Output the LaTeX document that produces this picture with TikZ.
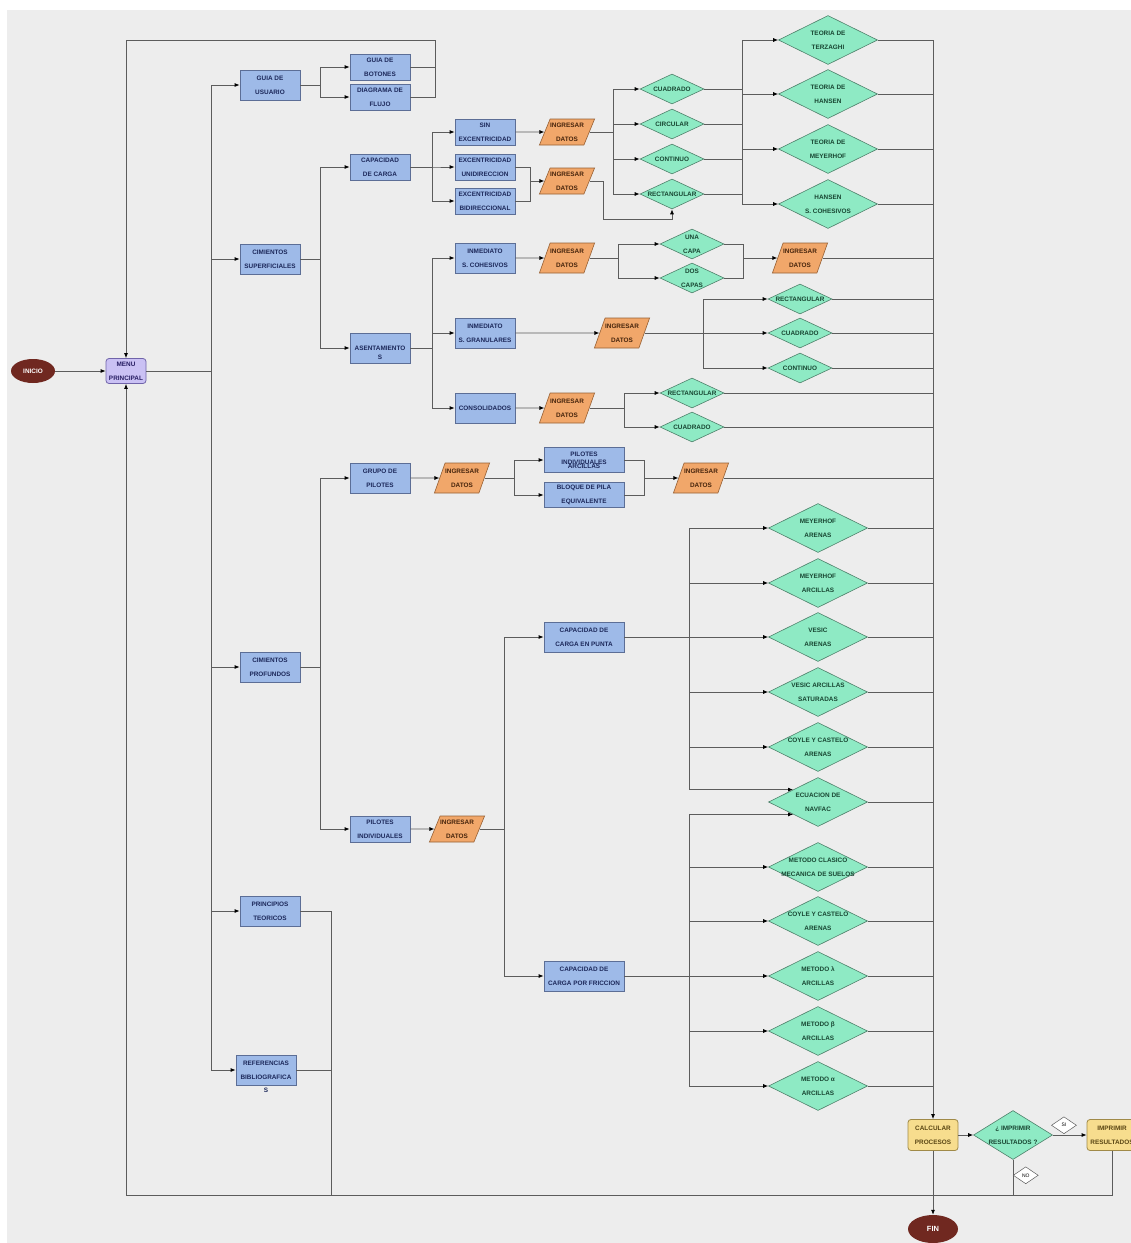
\documentclass[tikz,border=0pt]{standalone}
\usepackage{fontspec}
\setmainfont{Liberation Sans}
\usetikzlibrary{arrows.meta,shapes.geometric,positioning}

\definecolor{fondo}{RGB}{237,237,237}
\definecolor{azul}{RGB}{158,186,232}
\definecolor{azulb}{RGB}{92,110,150}
\definecolor{azult}{RGB}{28,40,90}
\definecolor{naranja}{RGB}{241,167,106}
\definecolor{naranjab}{RGB}{150,96,52}
\definecolor{naranjat}{RGB}{70,36,12}
\definecolor{verde}{RGB}{142,234,196}
\definecolor{verdeb}{RGB}{78,128,106}
\definecolor{verdet}{RGB}{24,70,50}
\definecolor{lila}{RGB}{202,193,244}
\definecolor{lilab}{RGB}{112,100,170}
\definecolor{lilat}{RGB}{40,30,100}
\definecolor{amarillo}{RGB}{247,221,142}
\definecolor{amarillob}{RGB}{160,138,72}
\definecolor{amarillot}{RGB}{90,70,20}
\definecolor{vino}{RGB}{112,40,32}
\definecolor{linea}{RGB}{92,92,92}

\begin{document}
\begin{tikzpicture}[x=1pt,y=-1pt,
    every node/.style={font=\fontsize{6.4}{14}\selectfont\bfseries,align=center,inner sep=0pt},
    caja/.style={rectangle,draw=azulb,fill=azul,text=azult,line width=0.8pt,minimum width=60pt,minimum height=30pt},
    cajab/.style={caja,minimum height=26pt},
    cajaw/.style={caja,minimum width=80pt},
    datos/.style={trapezium,trapezium left angle=60,trapezium right angle=120,trapezium stretches=true,
        draw=naranjab,fill=naranja,text=naranjat,line width=0.6pt,minimum width=54pt,minimum height=26pt},
    rombo/.style={diamond,aspect=2,inner xsep=-20pt,draw=verdeb,fill=verde,text=verdet,line width=0.6pt,
        minimum width=64pt,minimum height=30pt},
    rombog/.style={rombo,minimum width=99pt,minimum height=49pt},
    menu/.style={rectangle,rounded corners=3pt,draw=lilab,fill=lila,text=lilat,line width=0.8pt,minimum width=40pt,minimum height=25pt},
    proc/.style={rectangle,rounded corners=3pt,draw=amarillob,fill=amarillo,text=amarillot,line width=0.8pt,minimum width=50pt,minimum height=31pt},
    term/.style={ellipse,fill=vino,text=white,minimum width=44pt,minimum height=24pt},
    etq/.style={diamond,aspect=1.5,draw=linea,fill=white,text=black,line width=0.5pt,minimum width=25pt,minimum height=17pt,
        font=\fontsize{5}{6}\selectfont},
    lin/.style={draw=linea,line width=0.8pt},
    arr/.style={lin,-{Latex[length=5pt,width=4pt,color=black]}}]
        \useasboundingbox (0,0) rectangle (1131,1243);
        \fill[fondo] (7,10) rectangle (1131,1243);

        \node[term] (inicio) at (33,371) {INICIO};
        \node[menu] (menu) at (126,371) {MENU\\PRINCIPAL};

        \node[caja] (guia) at (270,85) {GUIA DE\\USUARIO};
        \node[caja] (supf) at (270,259) {CIMIENTOS\\SUPERFICIALES};
        \node[caja] (prof) at (270,667) {CIMIENTOS\\PROFUNDOS};
        \node[caja] (princ) at (270,911) {PRINCIPIOS\\TEORICOS};
        \node[caja] (refs) at (266,1070) {REFERENCIAS\\BIBLIOGRAFICA\\[-14pt]\raisebox{-13pt}[0pt][0pt]{S}};

        \node[cajab] (botones) at (380,67) {GUIA DE\\BOTONES};
        \node[cajab] (diagrama) at (380,97) {DIAGRAMA DE\\FLUJO};
        \node[cajab] (capcarga) at (380,167) {CAPACIDAD\\DE CARGA};
        \node[caja] (asent) at (380,348) {ASENTAMIENTO\\[-14pt]\raisebox{-9pt}[0pt][0pt]{S}};
        \node[caja] (grupo) at (380,478) {GRUPO DE\\PILOTES};
        \node[cajab] (pilind) at (380,829) {PILOTES\\INDIVIDUALES};

        \node[cajab] (sinexc) at (485,132) {SIN\\EXCENTRICIDAD};
        \node[cajab] (uniexc) at (485,167) {EXCENTRICIDAD\\UNIDIRECCION};
        \node[cajab] (biexc) at (485,201) {EXCENTRICIDAD\\BIDIRECCIONAL};
        \node[caja] (inmcoh) at (485,258) {INMEDIATO\\S. COHESIVOS};
        \node[caja] (inmgran) at (485,333) {INMEDIATO\\S. GRANULARES};
        \node[caja] (consol) at (485,408) {CONSOLIDADOS};

        \node[datos] (dat1) at (567,132) {INGRESAR\\DATOS};
        \node[datos] (dat2) at (567,181) {INGRESAR\\DATOS};
        \node[datos,minimum height=30pt] (dat3) at (567,258) {INGRESAR\\DATOS};
        \node[datos,minimum height=30pt] (dat4) at (800,258) {INGRESAR\\DATOS};
        \node[datos,minimum height=30pt] (dat5) at (622,333) {INGRESAR\\DATOS};
        \node[datos,minimum height=30pt] (dat6) at (567,408) {INGRESAR\\DATOS};
        \node[datos,minimum height=30pt] (dat7) at (462,478) {INGRESAR\\DATOS};
        \node[datos,minimum height=30pt] (dat8) at (701,478) {INGRESAR\\DATOS};
        \node[datos] (dat9) at (457,829) {INGRESAR\\DATOS};

        \node[rombo] (cuad1) at (672,89) {CUADRADO};
        \node[rombo] (circ1) at (672,124) {CIRCULAR};
        \node[rombo] (cont1) at (672,159) {CONTINUO};
        \node[rombo] (rect1) at (672,194) {RECTANGULAR};
        \node[rombog] (terz) at (828,40) {TEORIA DE\\TERZAGHI};
        \node[rombog] (hans) at (828,94) {TEORIA DE\\HANSEN};
        \node[rombog] (meyer) at (828,149) {TEORIA DE\\MEYERHOF};
        \node[rombog] (hanscoh) at (828,204) {HANSEN\\S. COHESIVOS};

        \node[rombo] (unacapa) at (692,244) {UNA\\CAPA};
        \node[rombo] (doscapas) at (692,278) {DOS\\CAPAS};
        \node[rombo] (rect2) at (800,299) {RECTANGULAR};
        \node[rombo] (cuad2) at (800,333) {CUADRADO};
        \node[rombo] (cont2) at (800,368) {CONTINUO};
        \node[rombo] (rect3) at (692,393) {RECTANGULAR};
        \node[rombo] (cuad3) at (692,427) {CUADRADO};

        \node[cajaw,minimum height=25pt] (pilarc) at (584,460) {PILOTES\\[-6pt]INDIVIDUALES\\[-10pt]ARCILLAS};
        \node[cajaw,minimum height=25pt] (bloque) at (584,495) {BLOQUE DE PILA\\EQUIVALENTE};
        \node[cajaw] (punta) at (584,637) {CAPACIDAD DE\\CARGA EN PUNTA};
        \node[cajaw] (fricc) at (584,976) {CAPACIDAD DE\\CARGA POR FRICCION};

        \node[rombog] (meyare) at (818,528) {MEYERHOF\\ARENAS};
        \node[rombog] (meyarc) at (818,583) {MEYERHOF\\ARCILLAS};
        \node[rombog] (vesare) at (818,637) {VESIC\\ARENAS};
        \node[rombog] (vesarc) at (818,692) {VESIC ARCILLAS\\SATURADAS};
        \node[rombog] (coyle1) at (818,747) {COYLE Y CASTELO\\ARENAS};
        \node[rombog] (navfac) at (818,802) {ECUACION DE\\NAVFAC};
        \node[rombog] (metcla) at (818,867) {METODO CLASICO\\MECANICA DE SUELOS};
        \node[rombog] (coyle2) at (818,921) {COYLE Y CASTELO\\ARENAS};
        \node[rombog] (metlam) at (818,976) {METODO λ\\ARCILLAS};
        \node[rombog] (metbet) at (818,1031) {METODO β\\ARCILLAS};
        \node[rombog] (metalf) at (818,1086) {METODO α\\ARCILLAS};

        \node[proc] (calc) at (933,1135) {CALCULAR\\PROCESOS};
        \node[rombo,minimum width=79pt,minimum height=49pt] (decide) at (1013,1135) {¿ IMPRIMIR\\RESULTADOS ?};
        \node[proc] (impr) at (1112,1135) {IMPRIMIR\\RESULTADOS};
        \node[term,minimum width=50pt,minimum height=28pt,font=\fontsize{7.5}{9}\selectfont\bfseries] (fin) at (933,1229) {FIN};

        \coordinate (xa) at (211,0);
        \coordinate (xb) at (320,0);
        \coordinate (xc) at (432,0);
        \coordinate (xd) at (530,0);
        \coordinate (xe) at (613,0);
        \coordinate (xf) at (603,219);
        \coordinate (xg) at (742,0);
        \coordinate (xh) at (618,0);
        \coordinate (xi) at (743,0);
        \coordinate (xj) at (703,0);
        \coordinate (xk) at (624,0);
        \coordinate (xl) at (514,0);
        \coordinate (xm) at (644,0);
        \coordinate (xn) at (504,0);
        \coordinate (xo) at (689,0);
        \coordinate (xp) at (331,0);
        \coordinate (xr) at (933,0);
        \coordinate (xt) at (435,40);
        \coordinate (yb) at (0,1195);

        \draw[arr] (inicio.east) -- (menu.west);
        \foreach \n in {guia,supf,prof,princ,refs}
            \draw[arr] (menu.east) -- (menu.east -| xa) |- (\n.west);

        \foreach \n in {botones,diagrama}
            \draw[arr] (guia.east) -- (guia.east -| xb) |- (\n.west);
        \draw[lin] (botones.east) -- (botones.east -| xt);
        \draw[arr] (diagrama.east) -| (xt) -| (menu.north);

        \foreach \n in {capcarga,asent}
            \draw[arr] (supf.east) -- (supf.east -| xb) |- (\n.west);
        \foreach \n in {sinexc,uniexc,biexc}
            \draw[arr] (capcarga.east) -- (capcarga.east -| xc) |- (\n.west);
        \draw[arr] (sinexc.east) -- (dat1.west);
        \draw[lin] (uniexc.east) -- (uniexc.east -| xd) -- (biexc.east -| xd) -- (biexc.east);
        \draw[arr] (dat2.west -| xd) -- (dat2.west);
        \foreach \n in {cuad1,circ1,cont1,rect1}
            \draw[arr] (dat1.east) -- (dat1.east -| xe) |- (\n.west);
        \draw[arr] (dat2.east) -| (xf) -| (rect1.south);
        \foreach \n in {cuad1,circ1,cont1,rect1}
            \draw[lin] (\n.east) -- (\n.east -| xg);
        \foreach \n in {terz,hans,meyer,hanscoh}
            \draw[arr] (terz.west -| xg) |- (\n.west);

        \foreach \n in {inmcoh,inmgran,consol}
            \draw[arr] (asent.east) -- (asent.east -| xc) |- (\n.west);
        \draw[arr] (inmcoh.east) -- (dat3.west);
        \foreach \n in {unacapa,doscapas}
            \draw[arr] (dat3.east) -- (dat3.east -| xh) |- (\n.west);
        \draw[lin] (unacapa.east) -- (unacapa.east -| xi) -- (doscapas.east -| xi) -- (doscapas.east);
        \draw[arr] (dat4.west -| xi) -- (dat4.west);
        \draw[arr] (inmgran.east) -- (dat5.west);
        \foreach \n in {rect2,cuad2,cont2}
            \draw[arr] (dat5.east) -- (dat5.east -| xj) |- (\n.west);
        \draw[arr] (consol.east) -- (dat6.west);
        \foreach \n in {rect3,cuad3}
            \draw[arr] (dat6.east) -- (dat6.east -| xk) |- (\n.west);

        \foreach \n in {grupo,pilind}
            \draw[arr] (prof.east) -- (prof.east -| xb) |- (\n.west);
        \draw[arr] (grupo.east) -- (dat7.west);
        \foreach \n in {pilarc,bloque}
            \draw[arr] (dat7.east) -- (dat7.east -| xl) |- (\n.west);
        \draw[lin] (pilarc.east) -- (pilarc.east -| xm) -- (bloque.east -| xm) -- (bloque.east);
        \draw[arr] (dat8.west -| xm) -- (dat8.west);
        \draw[arr] (pilind.east) -- (dat9.west);
        \foreach \n in {punta,fricc}
            \draw[arr] (dat9.east) -- (dat9.east -| xn) |- (\n.west);
        \foreach \n in {meyare,meyarc,vesare,vesarc,coyle1}
            \draw[arr] (punta.east) -- (punta.east -| xo) |- (\n.west);
        \draw[arr] (punta.east) -- (punta.east -| xo) |- (navfac.north west);
        \foreach \n in {metcla,coyle2,metlam,metbet,metalf}
            \draw[arr] (fricc.east) -- (fricc.east -| xo) |- (\n.west);
        \draw[arr] (fricc.east) -- (fricc.east -| xo) |- (navfac.south west);

        \foreach \n in {terz,hans,meyer,hanscoh,dat4,rect2,cuad2,cont2,rect3,cuad3,dat8,
                        meyare,meyarc,vesare,vesarc,coyle1,navfac,metcla,coyle2,metlam,metbet,metalf}
            \draw[lin] (\n.east) -- (\n.east -| xr);
        \draw[arr] (terz.east -| xr) -- (calc.north);

        \draw[arr] (calc.east) -- (decide.west);
        \draw[arr] (decide.east) -- node[etq,above=1pt,pos=0.33] (si) {SI} (impr.west);
        \draw[lin] (decide.south) -- node[etq,right=0pt,pos=0.44] (no) {NO} (decide.south |- yb);
        \draw[arr] (impr.south) -- (impr.south |- yb) -| (menu.south);
        \draw[lin] (princ.east) -- (princ.east -| xp) -- (xp |- yb);
        \draw[lin] (refs.east) -- (refs.east -| xp);
        \draw[arr] (calc.south) -- (fin.north);
\end{tikzpicture}
\end{document}
